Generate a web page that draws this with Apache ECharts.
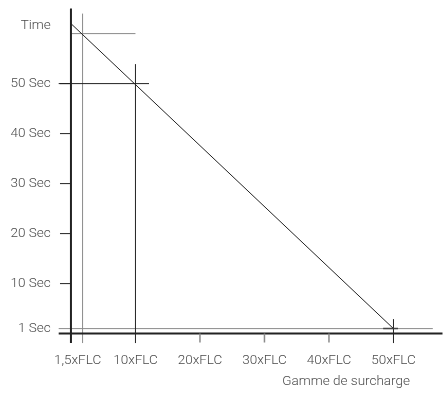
<!DOCTYPE html>
<html>
<head>
<meta charset="utf-8">
<script src="https://cdn.jsdelivr.net/npm/echarts@6/dist/echarts.min.js"></script>
<style>
  html, body { margin: 0; padding: 0; background: #fff; }
  #chart { width: 443px; height: 394px; }
</style>
</head>
<body>
<div id="chart"></div>
<script>
// tick labels
var xTickValues = [1.8, 10, 20, 30, 40, 50];
var xTickLabels = ['1,5xFLC', '10xFLC', '20xFLC', '30xFLC', '40xFLC', '50xFLC'];
var xPlainTicks = [20, 30, 40];
var yTickValues = [10, 20, 30, 40, 50];
var yLabelValues = [1, 10, 20, 30, 40, 50, 61.5];
var yLabels = ['1 Sec', '10 Sec', '20 Sec', '30 Sec', '40 Sec', '50 Sec', 'Time'];

// curve and guide lines (overload x, time in sec)
var tripCurve = [[0, 62], [50, 1]];
var timeLine = [[0, 60], [10, 60]];
var line50s = [[-1.9, 50], [12.1, 50]];
var line1s = [[-1.9, 1], [56.1, 1]];
var vLine15 = [[1.8, -1.9], [1.8, 64]];
var vLine10 = [[10, -1.9], [10, 53.9]];
var vLine50 = [[50, -1.9], [50, 2.9]];
var hMark50 = [[48.4, 1], [50.7, 1]];
// axes, crossing at 0 and running a little past it
var xAxisLine = [[-1.9, 0], [57.6, 0]];
var yAxisLine = [[0, -1.9], [0, 65]];

var dark = '#222';
var gray = '#8a8a8a';
var textColor = '#4a4a4a';
var font = 'Roboto, "Liberation Sans", sans-serif';

function seg(data, color, width) {
  return {
    type: 'line',
    data: data,
    symbol: 'none',
    silent: true,
    animation: false,
    lineStyle: { color: color, width: width || 1 }
  };
}

var series = [
  seg(line1s, gray),
  seg(timeLine, gray),
  seg(vLine15, gray),
  seg(vLine10, dark),
  seg(line50s, dark),
  seg(vLine50, dark),
  seg(hMark50, '#444', 1.5),
  seg(xAxisLine, dark, 2),
  seg(yAxisLine, dark, 2),
  seg(tripCurve, dark)
];
yTickValues.forEach(function (v) {
  series.push(seg([[-1.7, v], [0, v]], dark));
});
xPlainTicks.forEach(function (v) {
  series.push(seg([[v, -1.8], [v, 0]], gray, 1.5));
});

var chart = echarts.init(document.getElementById('chart'));
var option = {
  animation: false,
  grid: { left: 58.7, right: 0.5, top: 8.6, bottom: 50.9, outerBoundsMode: 'none', containLabel: false },
  xAxis: {
    type: 'value',
    min: -1.9,
    max: 57.6,
    splitLine: { show: false },
    axisLine: { show: false },
    axisTick: { show: false },
    axisLabel: {
      customValues: xTickValues,
      margin: 11,
      color: textColor,
      fontFamily: font,
      fontWeight: 300,
      fontSize: 13.5,
      rich: {
        first: { color: textColor, fontFamily: font, fontWeight: 300, fontSize: 13.5, padding: [0, 10, 0, 0] }
      },
      formatter: function (v) {
        var i = xTickValues.indexOf(v);
        if (i === 0) return '{first|' + xTickLabels[0] + '}';
        return i >= 0 ? xTickLabels[i] : '';
      }
    }
  },
  yAxis: {
    type: 'value',
    min: -1.9,
    max: 65,
    splitLine: { show: false },
    axisLine: { show: false },
    axisTick: { show: false },
    axisLabel: {
      customValues: yLabelValues,
      margin: 8,
      color: textColor,
      fontFamily: font,
      fontWeight: 300,
      fontSize: 13.5,
      padding: [0, 0, 5, 0],
      formatter: function (v) {
        var i = yLabelValues.indexOf(v);
        return i >= 0 ? yLabels[i] : '';
      }
    }
  },
  graphic: [{
    type: 'text',
    right: 33,
    top: 375,
    style: { text: 'Gamme de surcharge', fill: textColor, font: '300 13.5px ' + font }
  }],
  series: series
};
chart.setOption(option);
</script>
</body>
</html>
